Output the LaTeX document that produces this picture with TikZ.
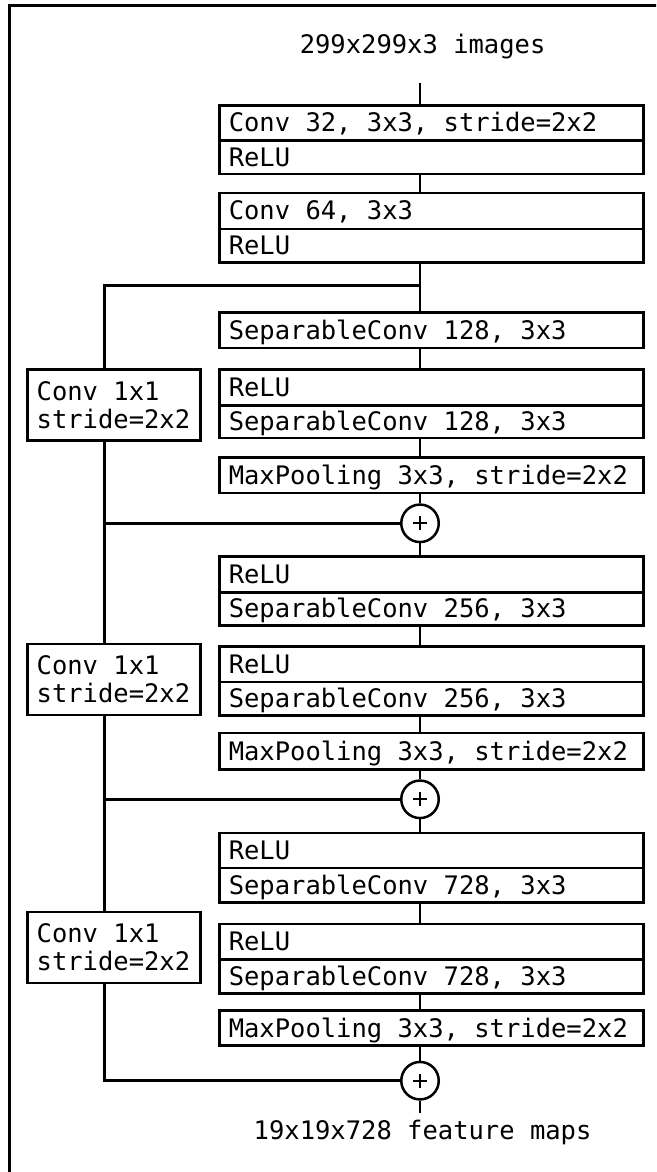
\documentclass[tikz,border=0pt]{standalone}
\usepackage{fontspec}
\newfontfamily\monof{DejaVu Sans Mono}
\newcommand\mysetfont{\monof\fontsize{25.5}{28.3}\selectfont}
\newcommand\spc{\hspace*{0.602em}}
\begin{document}
\begin{tikzpicture}[x=1pt,y=1pt,
  lw/.style={line width=2.5pt},
  row/.style={draw, lw, anchor=north west, inner xsep=9.5pt, inner ysep=0pt,
    text width=405pt, align=left, minimum height=#1, text height=18pt, text depth=0pt,
    font=\mysetfont},
  sidebox/.style={draw, lw, anchor=north west, inner xsep=9pt, inner ysep=0pt,
    text width=155pt, align=left, minimum height=71pt,
    font=\mysetfont},
  plain/.style={anchor=base, inner sep=0pt, font=\mysetfont},
  addnode/.style={draw, lw, circle, minimum size=37.5pt, inner sep=0pt},
  conn/.style={lw}]
\useasboundingbox (0,0) rectangle (656,-1172);
\begin{scope}
\clip (0,0) rectangle (656,-1172);
\draw[line width=2.6pt] (9.3,-1190) -- (9.3,-5.5) -- (680,-5.5);
\end{scope}

\coordinate (spine) at (420,0);
\coordinate (lx) at (104.5,0);

% input
\node[plain] (intxt) at (422.6,-53.5) {299x299x3\spc images};
\coordinate (in0) at (420,-83);

% entry flow
\node[row=35.3pt] (b1a) at (218,-104) {Conv\spc 32,\spc 3x3,\spc stride=2x2};
\node[row=33.4pt] (b1b) at (218,-139.3) {ReLU};
\node[row=36pt] (b2a) at (218,-191.7) {Conv\spc 64,\spc 3x3};
\node[row=33.6pt] (b2b) at (218,-227.7) {ReLU};
\coordinate (br) at (420,-285.7);

% block 1
\node[row=35.7pt] (s1) at (218,-311) {SeparableConv\spc 128,\spc 3x3};
\node[row=36pt] (s2a) at (218,-368.3) {ReLU};
\node[row=32.4pt] (s2b) at (218,-404.3) {SeparableConv\spc 128,\spc 3x3};
\node[row=35.7pt] (m1) at (218,-456) {MaxPooling\spc 3x3,\spc stride=2x2};
\node[addnode] (p1) at (420,-523.3) {};
\node[sidebox] (c1) at (26.4,-368.3) {Conv\spc 1x1\\stride=2x2};

% block 2
\node[row=36pt] (r1a) at (218,-555) {ReLU};
\node[row=33pt] (r1b) at (218,-591) {SeparableConv\spc 256,\spc 3x3};
\node[row=35.7pt] (r2a) at (218,-645) {ReLU};
\node[row=33.3pt] (r2b) at (218,-680.7) {SeparableConv\spc 256,\spc 3x3};
\node[row=36.3pt] (m2) at (218,-731.7) {MaxPooling\spc 3x3,\spc stride=2x2};
\node[addnode] (p2) at (420,-799.3) {};
\node[sidebox] (c2) at (26.4,-642.7) {Conv\spc 1x1\\stride=2x2};

% block 3
\node[row=35pt] (t1a) at (218,-831.7) {ReLU};
\node[row=34.3pt] (t1b) at (218,-866.7) {SeparableConv\spc 728,\spc 3x3};
\node[row=35.6pt] (t2a) at (218,-922.7) {ReLU};
\node[row=34pt] (t2b) at (218,-958.3) {SeparableConv\spc 728,\spc 3x3};
\node[row=35pt] (m3) at (218,-1009.3) {MaxPooling\spc 3x3,\spc stride=2x2};
\node[addnode] (p3) at (420,-1080.7) {};
\node[sidebox] (c3) at (26.4,-910.7) {Conv\spc 1x1\\stride=2x2};

% output
\coordinate (out0) at (420,-1112.7);
\node[plain] (outtxt) at (422.6,-1139.3) {19x19x728\spc feature\spc maps};

% plus signs
\foreach \p in {p1,p2,p3}{
  \draw[line width=2.3pt] (\p.center) +(-7,0) -- +(7,0);
  \draw[line width=2.3pt] (\p.center) +(0,-7) -- +(0,7);
}

% main connectors
\draw[conn] (in0) -- (b1a.north -| spine);
\draw[conn] (b1b.south -| spine) -- (b2a.north -| spine);
\draw[conn] (b2b.south -| spine) -- (s1.north -| spine);
\draw[conn] (s1.south -| spine) -- (s2a.north -| spine);
\draw[conn] (s2b.south -| spine) -- (m1.north -| spine);
\draw[conn] (m1.south -| spine) -- (p1.north);
\draw[conn] (p1.south) -- (r1a.north -| spine);
\draw[conn] (r1b.south -| spine) -- (r2a.north -| spine);
\draw[conn] (r2b.south -| spine) -- (m2.north -| spine);
\draw[conn] (m2.south -| spine) -- (p2.north);
\draw[conn] (p2.south) -- (t1a.north -| spine);
\draw[conn] (t1b.south -| spine) -- (t2a.north -| spine);
\draw[conn] (t2b.south -| spine) -- (m3.north -| spine);
\draw[conn] (m3.south -| spine) -- (p3.north);
\draw[conn] (p3.south) -- (out0);

% residual connectors
\draw[conn] (br) -- (br -| lx) -- (c1.north -| lx);
\draw[conn] (c1.south -| lx) -- (p1 -| lx) -- (p1.west);
\draw[conn] (p1 -| lx) -- (c2.north -| lx);
\draw[conn] (c2.south -| lx) -- (p2 -| lx) -- (p2.west);
\draw[conn] (p2 -| lx) -- (c3.north -| lx);
\draw[conn] (c3.south -| lx) -- (p3 -| lx) -- (p3.west);
\end{tikzpicture}
\end{document}
